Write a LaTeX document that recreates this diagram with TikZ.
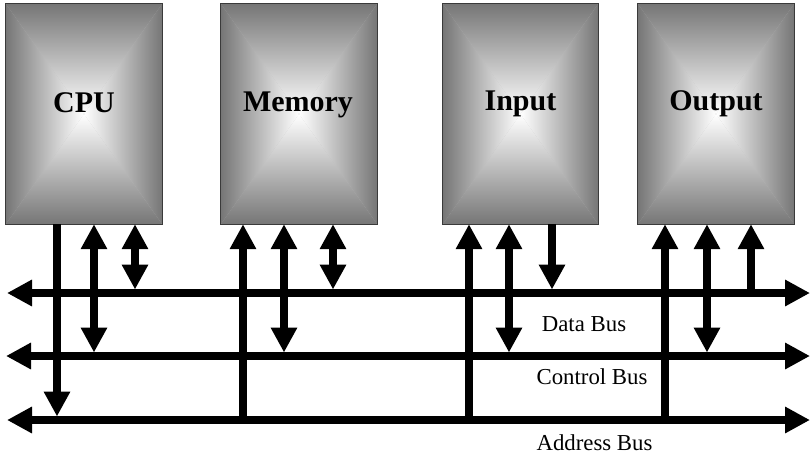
\documentclass[tikz,border=0pt]{standalone}
\usepackage{fontspec}
\setmainfont{Liberation Serif}
\usetikzlibrary{arrows.meta}
\definecolor{edgegray}{HTML}{767676}
\definecolor{boxline}{HTML}{3A3A3A}
\colorlet{midgray}{edgegray!48!white}
\begin{document}
\begin{tikzpicture}[x=1pt,y=-1pt,
  >={Triangle[length=25pt,width=25pt]},
  boxgeo/.style={minimum height=220pt, inner sep=0pt},
  lbl/.style={font=\fontsize{30}{30}\selectfont\bfseries, anchor=base, inner sep=0pt},
  wire/.style={line width=7.5pt},
  bus/.style={line width=7.5pt, <->},
  buslbl/.style={font=\fontsize{22.8}{22.8}\selectfont, anchor=base, inner sep=0pt}]
\useasboundingbox (0,0) rectangle (811,456);

% boxes (geometry)
\node[boxgeo, minimum width=156pt] (cpu) at (84,114) {};
\node[boxgeo, minimum width=156pt] (mem) at (299,114) {};
\node[boxgeo, minimum width=155pt] (inp) at (520.5,114) {};
\node[boxgeo, minimum width=156pt] (out) at (716,114) {};

% rectangular gradient fills
\foreach \b in {cpu,mem,inp,out}{
  \fill[midgray] (\b.north west) rectangle (\b.south east);
  \shade[top color=edgegray, middle color=midgray, bottom color=white] (\b.north west) -- (\b.north east) -- (\b.center) -- cycle;
  \shade[bottom color=edgegray, middle color=midgray, top color=white] (\b.south west) -- (\b.south east) -- (\b.center) -- cycle;
  \shade[left color=edgegray, middle color=midgray, right color=white] (\b.north west) -- (\b.south west) -- (\b.center) -- cycle;
  \shade[right color=edgegray, middle color=midgray, left color=white] (\b.north east) -- (\b.south east) -- (\b.center) -- cycle;
  \draw[boxline, line width=0.9pt] (\b.north west) rectangle (\b.south east);
}

% box labels
\node[lbl] (cpuT) at (84,112) {CPU};
\node[lbl] (memT) at (298,111) {Memory};
\node[lbl] (inpT) at (520.5,110) {Input};
\node[lbl] (outT) at (716,110) {Output};

% bus end points
\coordinate (dL) at (7,293);  \coordinate (dR) at (810,293);
\coordinate (cL) at (6,356);  \coordinate (cR) at (810,356);
\coordinate (aL) at (7,420);  \coordinate (aR) at (810,420);

% vertical line positions
\coordinate (v1) at (57,0);  \coordinate (v2) at (94,0);  \coordinate (v3) at (135,0);
\coordinate (v4) at (243,0); \coordinate (v5) at (284,0); \coordinate (v6) at (333,0);
\coordinate (v7) at (469,0); \coordinate (v8) at (509,0); \coordinate (v9) at (552,0);
\coordinate (v10) at (665,0); \coordinate (v11) at (707,0); \coordinate (v12) at (751,0);

% buses
\draw[bus] (dL) -- (dR);
\draw[bus] (cL) -- (cR);
\draw[bus] (aL) -- (aR);

% CPU connections
\draw[wire,->,shorten >=3.5pt] (cpu.south -| v1) -- (aL -| v1);
\draw[wire,<->,shorten >=3.5pt] (cpu.south -| v2) -- (cL -| v2);
\draw[wire,<->,shorten >=3.5pt] (cpu.south -| v3) -- (dL -| v3);
% Memory connections
\draw[wire,->] (aL -| v4) -- (mem.south -| v4);
\draw[wire,<->,shorten >=3.5pt] (mem.south -| v5) -- (cL -| v5);
\draw[wire,<->,shorten >=3.5pt] (mem.south -| v6) -- (dL -| v6);
% Input connections
\draw[wire,->] (aL -| v7) -- (inp.south -| v7);
\draw[wire,<->,shorten >=3.5pt] (inp.south -| v8) -- (cL -| v8);
\draw[wire,->,shorten >=3.5pt] (inp.south -| v9) -- (dL -| v9);
% Output connections
\draw[wire,->] (aL -| v10) -- (out.south -| v10);
\draw[wire,<->,shorten >=3.5pt] (out.south -| v11) -- (cL -| v11);
\draw[wire,->] (dL -| v12) -- (out.south -| v12);

% bus labels
\node[buslbl] (dT) at (584,331) {Data Bus};
\node[buslbl] (cT) at (592,384) {Control Bus};
\node[buslbl] (aT) at (594.5,450) {Address Bus};
\end{tikzpicture}
\end{document}
